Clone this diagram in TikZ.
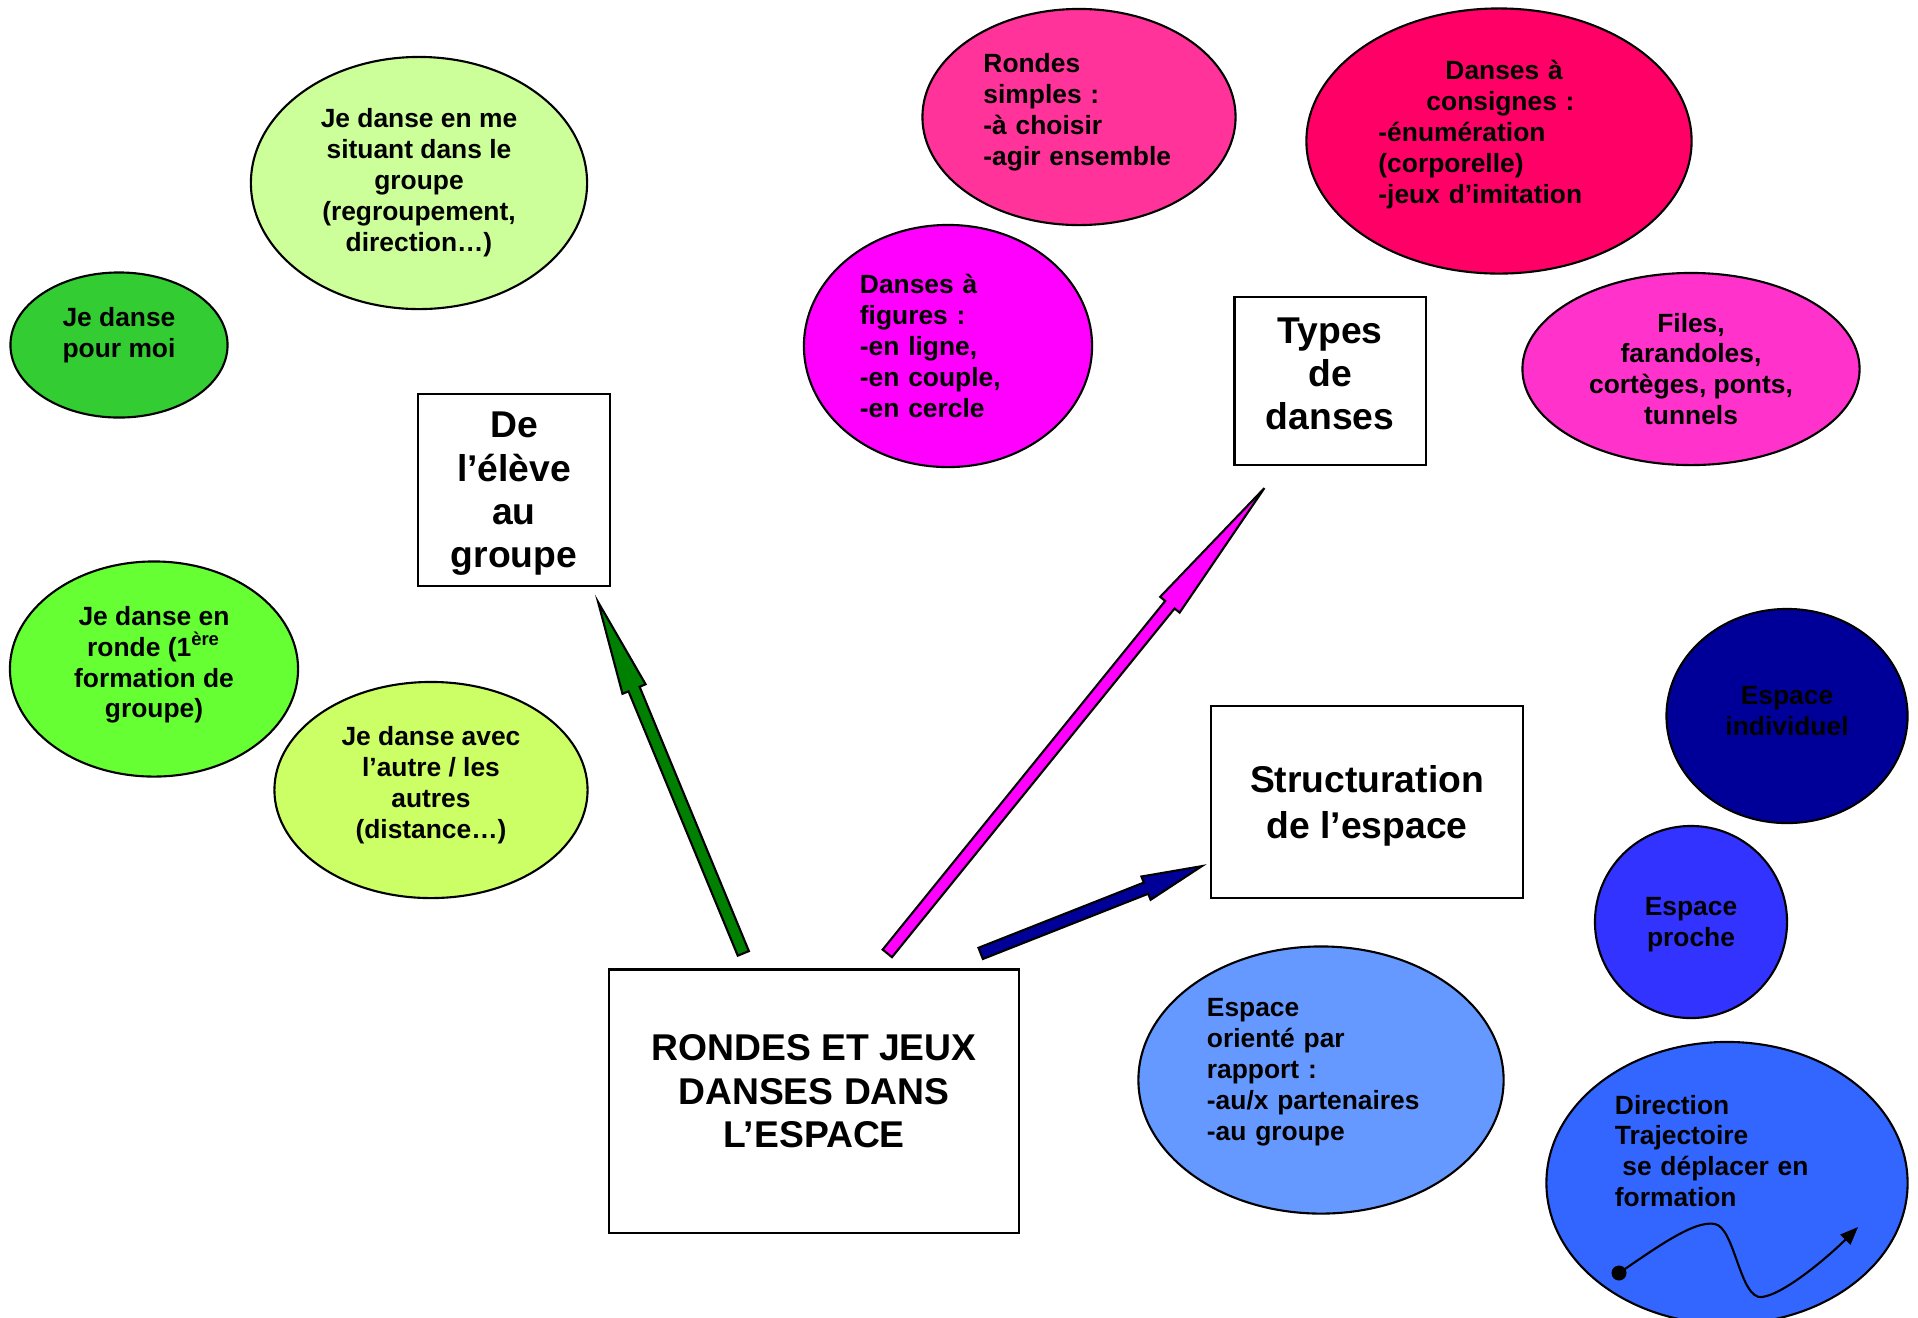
\documentclass[tikz,border=0pt]{standalone}
\usepackage{fontspec}
\setmainfont{Liberation Sans}
\usepackage{xcolor}
\definecolor{cPale}{HTML}{CCFF99}
\definecolor{cGreen}{HTML}{33CC33}
\definecolor{cLime}{HTML}{66FF33}
\definecolor{cYellowGreen}{HTML}{CCFF66}
\definecolor{cPink}{HTML}{FF3399}
\definecolor{cRaspberry}{HTML}{FF0066}
\definecolor{cMagenta}{HTML}{FF00FF}
\definecolor{cOrchid}{HTML}{FF33CC}
\definecolor{cNavy}{HTML}{000099}
\definecolor{cBlue}{HTML}{3333FF}
\definecolor{cSky}{HTML}{6699FF}
\definecolor{cRoyal}{HTML}{3366FF}
\definecolor{cArrowGreen}{HTML}{008000}
\usepackage{tikz}
\usetikzlibrary{arrows.meta,shapes.geometric,calc}
\newcommand{\bubblefont}{\fontsize{7.5}{8.8}\selectfont\bfseries}
\newcommand{\boxfont}{\fontsize{10.6}{12.3}\selectfont\bfseries}
\tikzset{
  node-bubble/.style={ellipse,draw=black,line width=0.6pt,inner sep=0pt,
    align=center,font=\bubblefont},
  % listes à tirets : calées à gauche, la largeur fixe le retrait
  node-list/.style={align=left},
  node-box/.style={draw=black,line width=0.6pt,fill=white,inner sep=0pt,
    align=center,font=\boxfont},
  arrow-block/.style={draw=black,line width=0.6pt},
  arrow-path/.style={-{Triangle[length=1.8mm,width=1.4mm]},line width=0.6pt},
}
% flèche pleine : couleur #1, queue #2, pointe #3, longueur de la tête #4
\newcommand{\blockarrow}[4]{%
  \coordinate (headbase) at ($(#3)!#4!(#2)$);
  \draw[arrow-block,fill=#1] ($(#2)!0.06cm!90:(#3)$)
    -- ($(headbase)!0.06cm!90:(#3)$) -- ($(headbase)!0.125cm!90:(#3)$)
    -- (#3) -- ($(headbase)!0.125cm!-90:(#3)$)
    -- ($(headbase)!0.06cm!-90:(#3)$) -- ($(#2)!0.06cm!-90:(#3)$) -- cycle;
}

\begin{document}
\begin{tikzpicture}[x=0.01cm,y=-0.01cm]
  \useasboundingbox (0,0) rectangle (1918,1317);

  % de l'élève au groupe
  \node[node-bubble,fill=cPale,minimum width=3.36cm,minimum height=2.52cm] (situant)
    at (419,183) {Je danse en me\\situant dans le\\groupe\\(regroupement,\\direction…)};
  \node[node-bubble,fill=cGreen,minimum width=2.17cm,minimum height=1.45cm,
    text depth=7.3pt] (moi)
    at (119,345) {Je danse\\pour moi};
  \node[node-bubble,fill=cLime,minimum width=2.88cm,minimum height=2.15cm,
    text depth=4pt] (ronde)
    at (154,669) {Je danse en\\ronde (1\textsuperscript{ère}\\formation de\\groupe)};
  \node[node-bubble,fill=cYellowGreen,minimum width=3.13cm,minimum height=2.16cm,
    text depth=4.4pt] (autres)
    at (431,790) {Je danse avec\\l’autre / les\\autres\\(distance…)};
  \node[node-box,minimum width=1.92cm,minimum height=1.92cm,text depth=-0.2pt] (eleve)
    at (514,490) {De\\l’élève\\au\\groupe};

  % types de danses
  \node[node-bubble,node-list,fill=cPink,minimum width=3.13cm,minimum height=2.16cm,
    text width=1.91cm,text depth=30.8pt] (simples)
    at (1079,117) {Rondes\\simples :\\-à choisir\\-agir ensemble};
  \node[node-bubble,node-list,fill=cRaspberry,minimum width=3.85cm,minimum height=2.65cm,
    text width=2.41cm,text depth=40.3pt] (consignes)
    at (1499,141) {\hspace*{0.67cm}Danses à\\\hspace*{0.48cm}consignes :\\-énumération\\(corporelle)\\-jeux d’imitation};
  \node[node-bubble,node-list,fill=cMagenta,minimum width=2.88cm,minimum height=2.42cm,
    text width=1.76cm] (figures)
    at (948,346) {Danses à\\figures :\\-en ligne,\\-en couple,\\-en cercle};
  \node[node-bubble,fill=cOrchid,minimum width=3.37cm,minimum height=1.92cm] (files)
    at (1691,369) {Files,\\farandoles,\\cortèges, ponts,\\tunnels};
  \node[node-box,minimum width=1.91cm,minimum height=1.68cm,text depth=4.2pt] (types)
    at (1330,381) {Types\\de\\danses};

  % structuration de l'espace
  \node[node-bubble,fill=cNavy,minimum width=2.41cm,minimum height=2.14cm,
    text depth=3.1pt] (individuel)
    at (1787,716) {Espace\\individuel};
  \node[node-bubble,fill=cBlue,minimum width=1.92cm,minimum height=1.92cm,
    text depth=-1.2pt] (proche)
    at (1691,922) {Espace\\proche};
  \node[node-bubble,node-list,fill=cSky,minimum width=3.65cm,minimum height=2.67cm,
    text width=2.28cm,text depth=41.3pt] (oriente)
    at (1321,1080) {Espace\\orienté par\\rapport :\\-au/x partenaires\\-au groupe};
  \node[node-bubble,fill=cRoyal,minimum width=3.61cm,minimum height=2.82cm] (direction)
    at (1727,1183) {};
  \node[node-list,font=\bubblefont,text width=2.24cm] (dirtext)
    at (1727,1151) {Direction\\Trajectoire\\\hspace*{0.074cm}se déplacer en\\formation};
  \node[circle,fill=black,inner sep=0pt,minimum size=0.15cm] (trajstart) at (1619,1273) {};
  \coordinate (trajend) at (1858,1227);
  \draw[arrow-path] (trajstart.center) .. controls (1660,1245) and (1695,1220) .. (1715,1224)
    .. controls (1735,1228) and (1740,1300) .. (1762,1297)
    .. controls (1785,1294) and (1830,1255) .. (trajend);
  \node[node-box,minimum width=3.12cm,minimum height=1.92cm,text depth=-0.5pt,
    font=\fontsize{10.6}{12.9}\selectfont\bfseries] (espace)
    at (1367,802) {Structuration\\de l’espace};

  % centre
  \node[node-box,minimum width=4.09cm,minimum height=2.63cm,text depth=5.7pt] (rondes)
    at (814,1101) {RONDES ET JEUX\\DANSES DANS\\L’ESPACE};

  \coordinate (gtail) at ($(rondes.north west)+(135,-15)$);
  \coordinate (gtip) at ($(eleve.south east)+(-13,15)$);
  \coordinate (mtail) at ($(rondes.north west)+(279,-15)$);
  \coordinate (mtip) at ($(types.south west)+(31,22)$);
  \coordinate (btail) at ($(rondes.north east)+(-39,-15)$);
  \coordinate (btip) at ($(espace.south west)+(-8,-33)$);
  \blockarrow{cArrowGreen}{gtail}{gtip}{0.94cm}
  \blockarrow{cMagenta}{mtail}{mtip}{1.5cm}
  \blockarrow{cNavy}{btail}{btip}{0.6cm}
\end{tikzpicture}
\end{document}
